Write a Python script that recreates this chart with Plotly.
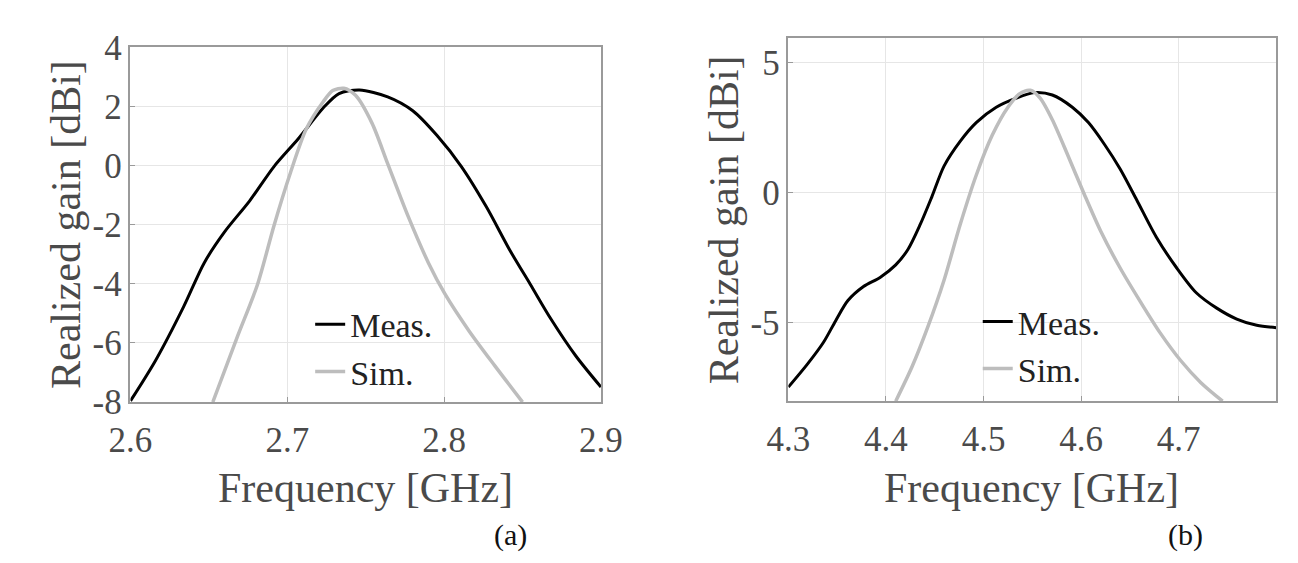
import plotly.graph_objects as go

# ---- data ----
freq_a_meas = [2.600, 2.616, 2.634, 2.647, 2.660, 2.676, 2.6915, 2.707, 2.723, 2.733, 2.746,
               2.764, 2.780, 2.7955, 2.811, 2.827, 2.842, 2.855, 2.868, 2.884, 2.900]
gain_a_meas = [-7.96, -6.59, -4.76, -3.29, -2.24, -1.19, -0.03, 0.91, 1.96, 2.44, 2.56,
               2.33, 1.86, 1.02, -0.03, -1.40, -2.87, -4.02, -5.18, -6.44, -7.49]
freq_a_sim = [2.6525, 2.668, 2.681, 2.6915, 2.702, 2.712, 2.723, 2.729, 2.736, 2.7435,
              2.754, 2.764, 2.777, 2.790, 2.8005, 2.816, 2.832, 2.850]
gain_a_sim = [-8.0, -5.81, -4.02, -2.03, -0.24, 1.23, 2.17, 2.54, 2.62, 2.38,
              1.44, 0.07, -1.71, -3.29, -4.34, -5.60, -6.75, -8.0]

freq_b_meas = [4.300, 4.3197, 4.336, 4.3485, 4.361, 4.377, 4.394, 4.410, 4.4225, 4.435,
               4.447, 4.4595, 4.476, 4.4925, 4.513, 4.5335, 4.552, 4.5705, 4.591, 4.6075,
               4.624, 4.640, 4.657, 4.677, 4.698, 4.718, 4.739, 4.7595, 4.780, 4.800]
gain_b_meas = [-7.46, -6.57, -5.74, -4.91, -4.14, -3.60, -3.25, -2.77, -2.18, -1.23,
               -0.16, 1.02, 1.97, 2.69, 3.28, 3.63, 3.84, 3.75, 3.28, 2.69,
               1.85, 0.91, -0.28, -1.70, -2.89, -3.84, -4.43, -4.85, -5.09, -5.18]
freq_b_sim = [4.410, 4.4266, 4.443, 4.4595, 4.476, 4.4925, 4.509, 4.525, 4.5375, 4.548,
              4.558, 4.5705, 4.587, 4.603, 4.620, 4.640, 4.661, 4.681, 4.702, 4.7225, 4.745]
gain_b_sim = [-8.0, -6.69, -5.14, -3.36, -1.23, 0.67, 2.21, 3.28, 3.81, 3.93,
              3.63, 2.80, 1.38, -0.04, -1.47, -2.89, -4.20, -5.38, -6.44, -7.28, -8.0]

xticks_a = [2.6, 2.7, 2.8, 2.9]
xlabels_a = ["2.6", "2.7", "2.8", "2.9"]
yticks_a = [4, 2, 0, -2, -4, -6, -8]
ylabels_a = ["4", "2", "0", "-2", "-4", "-6", "-8"]
xticks_b = [4.3, 4.4, 4.5, 4.6, 4.7]
xlabels_b = ["4.3", "4.4", "4.5", "4.6", "4.7"]
yticks_b = [5, 0, -5]
ylabels_b = ["5", "0", "-5"]

W, H = 1298, 563
FONT = "Liberation Serif"
MEAS_COLOR = "#000000"
SIM_COLOR = "#bdbdbd"

fig = go.Figure()
fig.add_trace(go.Scatter(x=freq_a_meas, y=gain_a_meas, mode="lines", name="Meas.",
                         line=dict(color=MEAS_COLOR, width=3, shape="spline", smoothing=0.8),
                         xaxis="x", yaxis="y", legend="legend"))
fig.add_trace(go.Scatter(x=freq_a_sim, y=gain_a_sim, mode="lines", name="Sim.",
                         line=dict(color=SIM_COLOR, width=3.5, shape="spline", smoothing=0.8),
                         xaxis="x", yaxis="y", legend="legend"))
fig.add_trace(go.Scatter(x=freq_b_meas, y=gain_b_meas, mode="lines", name="Meas.",
                         line=dict(color=MEAS_COLOR, width=3, shape="spline", smoothing=0.8),
                         xaxis="x2", yaxis="y2", legend="legend2"))
fig.add_trace(go.Scatter(x=freq_b_sim, y=gain_b_sim, mode="lines", name="Sim.",
                         line=dict(color=SIM_COLOR, width=3.5, shape="spline", smoothing=0.8),
                         xaxis="x2", yaxis="y2", legend="legend2"))

def px_x(p):
    return p / W

def px_y(p):
    return 1 - p / H

axis_common = dict(showline=True, mirror=True, linecolor="#9a9a9a", linewidth=1.5,
                   showgrid=True, gridcolor="#e6e6e6", gridwidth=1,
                   ticks="inside", ticklen=5, tickcolor="#9a9a9a",
                   zeroline=False)

fig.update_layout(
    width=W, height=H,
    margin=dict(l=0, r=0, t=0, b=0),
    paper_bgcolor="white", plot_bgcolor="white",
    xaxis=dict(domain=[px_x(104), px_x(591)], range=[2.6, 2.9], tickvals=xticks_a,
               ticktext=xlabels_a, anchor="y", **axis_common),
    yaxis=dict(domain=[px_y(403), px_y(22)], range=[-8, 4], tickvals=yticks_a,
               ticktext=ylabels_a, anchor="x", **axis_common),
    xaxis2=dict(domain=[px_x(785), px_x(1290)], range=[4.3, 4.8], tickvals=xticks_b,
                ticktext=xlabels_b, anchor="y2", **axis_common),
    yaxis2=dict(domain=[px_y(402), px_y(12)], range=[-8, 5.93], tickvals=yticks_b,
                ticktext=ylabels_b, anchor="x2", **axis_common),
    legend=dict(x=px_x(290), y=px_y(345), xanchor="left", yanchor="middle",
                bgcolor="rgba(0,0,0,0)", borderwidth=0, tracegroupgap=0),
    legend2=dict(x=px_x(981), y=px_y(342), xanchor="left", yanchor="middle",
                 bgcolor="rgba(0,0,0,0)", borderwidth=0, tracegroupgap=0),
    showlegend=True,
)

tick_font = dict(family=FONT, size=35, color="#4a4a4a")
legend_font = dict(family=FONT, size=34, color="#222222")
for ax in ("xaxis", "yaxis", "xaxis2", "yaxis2"):
    fig.layout[ax].tickfont = tick_font
fig.layout.xaxis.ticklabelstandoff = 6
fig.layout.xaxis2.ticklabelstandoff = 6
fig.layout.legend.font = legend_font
fig.layout.legend2.font = legend_font

title_font = dict(family=FONT, size=42, color="#4a4a4a")
annotations = [
    dict(text="Realized gain [dBi]", x=px_x(38), y=px_y(212), textangle=-90,
         xref="paper", yref="paper", showarrow=False, font=title_font,
         xanchor="center", yanchor="middle"),
    dict(text="Realized gain [dBi]", x=px_x(718), y=px_y(207), textangle=-90,
         xref="paper", yref="paper", showarrow=False, font=title_font,
         xanchor="center", yanchor="middle"),
    dict(text="Frequency [GHz]", x=px_x(347), y=px_y(495),
         xref="paper", yref="paper", showarrow=False, font=title_font,
         xanchor="center", yanchor="middle"),
    dict(text="Frequency [GHz]", x=px_x(1037), y=px_y(495),
         xref="paper", yref="paper", showarrow=False, font=title_font,
         xanchor="center", yanchor="middle"),
    dict(text="(a)", x=px_x(497), y=px_y(546),
         xref="paper", yref="paper", showarrow=False,
         font=dict(family=FONT, size=30, color="#111111"),
         xanchor="center", yanchor="middle"),
    dict(text="(b)", x=px_x(1196), y=px_y(546),
         xref="paper", yref="paper", showarrow=False,
         font=dict(family=FONT, size=30, color="#111111"),
         xanchor="center", yanchor="middle"),
]
fig.update_layout(annotations=annotations)

fig.write_html("out.html")
